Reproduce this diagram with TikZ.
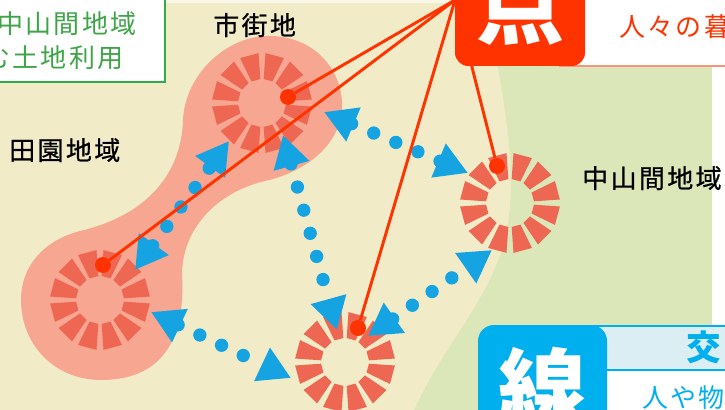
\documentclass[tikz,border=0pt]{standalone}
\usepackage{fontspec}
\newfontfamily\jpfont[LetterSpace=9]{Noto Sans CJK JP}
\newfontfamily\jpdark[LetterSpace=9,FakeBold=0.6]{Noto Sans CJK JP}
\newfontfamily\jpbig{Noto Sans CJK JP}
\usetikzlibrary{arrows.meta}

\definecolor{cream}{HTML}{F1ECC7}
\definecolor{meadow}{HTML}{DCE7B9}
\definecolor{blobpink}{HTML}{F6A691}
\definecolor{segred}{HTML}{EE6752}
\definecolor{pointred}{HTML}{FF3300}
\definecolor{flowblue}{HTML}{16A3E2}
\definecolor{senblue}{HTML}{00B0EE}
\definecolor{headblue}{HTML}{DAEEF4}
\definecolor{titlegreen}{HTML}{3DA548}
\definecolor{boxgreen}{HTML}{2EAD4B}
\definecolor{edgesalmon}{HTML}{F7957C}

\tikzset{
  seg/.style={fill=segred},
  flow/.style={draw=flowblue, line width=10pt, line cap=round, dash pattern=on 0pt off 18pt,
    arrows={Triangle[length=24pt,width=26pt]-Triangle[length=24pt,width=26pt]}},
  ray/.style={draw=pointred, line width=2.2pt},
  spot/.style={circle, fill=pointred, inner sep=0pt, minimum size=12pt},
  areaname/.style={font=\jpfont\fontsize{19.5}{24}\selectfont, inner sep=0pt},
  mapname/.style={font=\jpdark\fontsize{19.5}{24}\selectfont, inner sep=0pt},
  bigmark/.style={font=\jpbig\bfseries\fontsize{66}{70}\selectfont, text=white, inner sep=0pt},
}

\begin{document}
\begin{tikzpicture}[x=0.75pt,y=0.75pt,yscale=-1,xscale=1]
\useasboundingbox (0,0) rectangle (725,410);
\clip (0,0) rectangle (725,410);

%Background
\fill[cream] (0,0) rectangle (725,410);
\fill[cream!40!white] (0,0) rectangle (725,3);
%Green area
\fill[meadow] (495,50) .. controls (507,120) and (520,190) .. (502,250) .. controls (482,310) and (440,350) .. (412,415) -- (712,415) -- (712,50) -- cycle;
\fill[white!97!cream] (712,50) rectangle (730,415);

%Town zone
\fill[blobpink] (265,36) .. controls (312,34) and (342,68) .. (342,105)
  .. controls (342,145) and (305,172) .. (265,181)
  .. controls (215,193) and (182,230) .. (182,275)
  .. controls (186,342) and (160,380) .. (101,380)
  .. controls (55,380) and (21,345) .. (21,300)
  .. controls (21,265) and (45,240) .. (80,231)
  .. controls (140,217) and (181,180) .. (183,120)
  .. controls (185,75) and (225,38) .. (265,36) -- cycle;

%Town marks
\foreach \nm/\px/\py in {up/262/103, low/100/300, bot/345/362, rgt/510/203}{
  \node[circle, minimum size=75pt, inner sep=0pt] (\nm) at (\px,\py) {};
  \foreach \a in {15,45,...,345}
    \fill[seg, shift={(\px,\py)}] (\a-11:24) -- (\a-11:50) -- (\a+11:50) -- (\a+11:24) -- cycle;
}

%Flows
\coordinate (a1) at (135,270);
\coordinate (a2) at (229,141);
\coordinate (b1) at (324,112);
\coordinate (b2) at (468,173);
\coordinate (c1) at (283,135);
\coordinate (c2) at (337,330);
\coordinate (d1) at (368,336);
\coordinate (d2) at (492,250);
\coordinate (e1) at (151,312);
\coordinate (e2) at (291,378);
\draw[flow] (a1) -- (a2);
\draw[flow] (b1) -- (b2);
\draw[flow] (c1) -- (c2);
\draw[flow] (d1) -- (d2);
\draw[flow] (e1) -- (e2);

%Pointers
\coordinate (apex) at (455,0);
\node[spot] (pup) at (288,97) {};
\node[spot] (plow) at (103,265) {};
\node[spot] (pbot) at (358,328) {};
\node[spot] (prgt) at (497,166) {};
\draw[ray] (apex) -- (pup);
\draw[ray] (apex) -- (plow);
\draw[ray] (apex) -- (pbot);
\draw[ray] (apex) -- (prgt);

%Point banner
\draw[edgesalmon, fill=white, line width=1pt] (560,-10) rectangle (740,66);
\fill[pointred, rounded corners=10pt] (455,-40) rectangle (585,66);
% Text Node
\node[bigmark, anchor=base] (ten) at (520,38) {点};
% Text Node
\node[areaname, text=pointred, anchor=base west] (kurashi) at (619,37) {人々の暮};

%Line banner
\draw[senblue, fill=headblue, line width=1pt] (590,326) rectangle (740,370);
\draw[senblue, fill=white, line width=1pt] (590,370) rectangle (740,420);
\fill[senblue, rounded corners=12pt] (478,325) rectangle (607,450);
% Text Node
\node[bigmark, anchor=base] (sen) at (542,422) {線};
% Text Node
\node[font=\jpbig\bfseries\fontsize{26}{30}\selectfont, text=senblue, inner sep=0pt, anchor=base] (ko) at (704,360) {交};
% Text Node
\node[areaname, text=senblue, anchor=base west] (hitoya) at (642,407) {人や物};

%Title box
\draw[boxgreen, fill=white, line width=1pt] (-10,-10) rectangle (165,82);
% Text Node
\node[areaname, text=titlegreen, anchor=base west] (ttl1) at (-3,34) {中山間地域};
% Text Node
\node[areaname, text=titlegreen, anchor=base west] (ttl2) at (-16,68) {む土地利用};

% Text Node
\node[mapname, anchor=base west] (shigai) at (213,35) {市街地};
% Text Node
\node[mapname, anchor=base west] (denen) at (9,160) {田園地域};
% Text Node
\node[mapname, anchor=base west] (chusan) at (582,188) {中山間地域};

\end{tikzpicture}
\end{document}
